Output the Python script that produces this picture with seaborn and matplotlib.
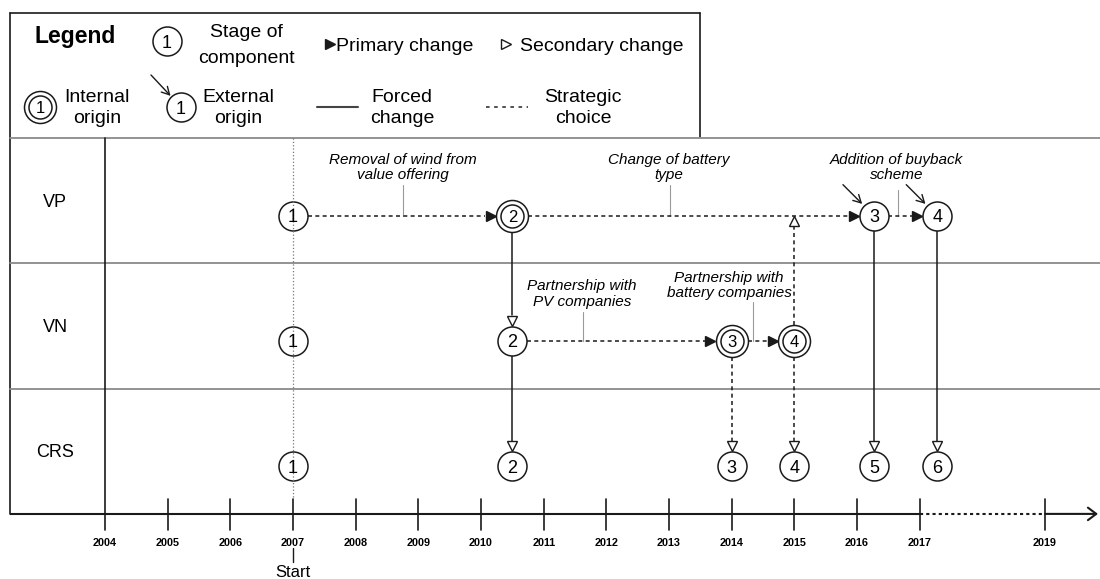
import numpy as np
import pandas as pd
import matplotlib.pyplot as plt
import matplotlib.transforms as mtransforms
import seaborn as sns

# ---- values ----
rows = ['VP', 'VN', 'CRS']
tick_years = [2004, 2005, 2006, 2007, 2008, 2009, 2010, 2011,
              2012, 2013, 2014, 2015, 2016, 2017, 2019]
start_year = 2007
dotted_from, dotted_to = 2017, 2019

vp_years = [2007, 2010.5, 2016.27, 2017.28]
vp_origin = ['none', 'internal', 'external', 'external']
vn_years = [2007, 2010.5, 2014, 2015]
vn_origin = ['none', 'none', 'internal', 'internal']
crs_years = [2007, 2010.5, 2014, 2015, 2016.27, 2017.28]
crs_origin = ['none', 'none', 'none', 'none', 'none', 'none']

# changes (row, stage) -> (row, stage); stage None = arrow meets the row line
chg_from = [('VP', 1), ('VP', 2), ('VP', 3), ('VP', 2), ('VN', 2), ('VN', 2),
            ('VN', 3), ('VN', 3), ('VN', 4), ('VN', 4), ('VP', 3), ('VP', 4)]
chg_to = [('VP', 2), ('VP', 3), ('VP', 4), ('VN', 2), ('CRS', 2), ('VN', 3),
          ('VN', 4), ('CRS', 3), ('CRS', 4), ('VP', None), ('CRS', 5), ('CRS', 6)]
chg_head = ['primary', 'primary', 'primary', 'secondary', 'secondary', 'primary',
            'primary', 'secondary', 'secondary', 'secondary', 'secondary', 'secondary']
chg_kind = ['strategic', 'strategic', 'strategic', 'forced', 'forced', 'strategic',
            'strategic', 'strategic', 'strategic', 'strategic', 'forced', 'forced']

notes = ['Removal of wind from\nvalue offering', 'Change of battery\ntype',
         'Addition of buyback\nscheme', 'Partnership with\nPV companies',
         'Partnership with\nbattery companies']
note_row = ['VP', 'VP', 'VP', 'VN', 'VN']
note_year = [2008.76, 2013.02, 2016.65, 2011.63, 2014.34]

# ---- layout (pixels) ----
W, H = 1100, 579
PPY = 62.67      # pixels per year
PPR = 125.3      # pixels per row band
X2004 = 105
TOP = 138
NODE = 0.62      # node line inside a band
R1, R2, R2IN = 14.5, 16, 11.5
HEAD = 11
INK = '#1a1a1a'
GRID = '#8a8a8a'
DASH = (0, (2.6, 2.2))

note_dx = [0, -2, -1, -1, -24]
note_base = [(-52, -37), (-52, -37), (-52, -37), (-51, -35), (-59, -44)]
note_lead = [-31, -31, -26, -29, -39]

xlim = (2004 - X2004 / PPY, 2004 + (W - X2004) / PPY)
ylim = ((H - TOP) / PPR, -TOP / PPR)


def dx(p):
    return p / PPY


def dy(p):
    return p / PPR


def msz(r):
    # scatter size (pt^2) for a circle of radius r px
    return (2 * r * 0.72) ** 2


sns.set_style('white')
plt.rcParams['font.family'] = ['Liberation Sans', 'DejaVu Sans']
plt.rcParams['text.color'] = 'black'

fig = plt.figure(figsize=(11, 5.79), dpi=100)
ax = fig.add_axes([0, 0, 1, 1])
ax.set_xlim(xlim)
ax.set_ylim(ylim)
pix = mtransforms.Affine2D().scale(1 / W, -1 / H).translate(0, 1) + fig.transFigure

node_years = {'VP': vp_years, 'VN': vn_years, 'CRS': crs_years}
node_origin = {'VP': vp_origin, 'VN': vn_origin, 'CRS': crs_origin}
recs = []
for i, r in enumerate(rows):
    for k, (yr, org) in enumerate(zip(node_years[r], node_origin[r])):
        recs.append(dict(row=r, stage=k + 1, year=yr, y=i + NODE, origin=org))
nodes = pd.DataFrame(recs)


def node_pos(row, stage):
    return node_years[row][stage - 1], rows.index(row) + NODE


def node_r(row, stage):
    return R2 if node_origin[row][stage - 1] == 'internal' else R1


# ---- frame: legend box, row bands, label column ----
ax.plot([10, 10], [13, 514], color=INK, lw=1.2, transform=pix)
ax.plot([10, 700], [13, 13], color=INK, lw=1.2, transform=pix)
ax.plot([700, 700], [13, 137], color=INK, lw=1.2, transform=pix)
for i in range(len(rows)):
    ax.plot([xlim[0] + dx(10), xlim[1]], [i, i], color=GRID, lw=1.3)
    ax.text(xlim[0] + dx(55), i + 0.5 + dy(6), rows[i], fontsize=13,
            ha='center', va='baseline')

# ---- time line ----
ax.plot([xlim[0] + dx(10), dotted_from], [3, 3], color=INK, lw=1.5, solid_capstyle='butt')
ax.plot([dotted_from, dotted_to], [3, 3], color=INK, lw=1.5, ls=(0, (1.5, 1.5)))
ax.annotate('', xy=(xlim[1] - dx(2), 3), xytext=(dotted_to, 3),
            arrowprops=dict(arrowstyle='->,head_length=0.6,head_width=0.45',
                            lw=1.5, color=INK, shrinkA=0, shrinkB=0))
for yr in tick_years:
    top = 0 if yr == tick_years[0] else 3 - dy(15)
    ax.plot([yr, yr], [top, 3 + dy(16)], color=INK, lw=1.2)
    ax.text(yr, 3 + dy(32), str(yr), fontsize=7.8, fontweight='bold',
            ha='center', va='baseline')
ax.plot([start_year, start_year], [0, 3 - dy(15)], color='#777777', lw=0.9,
        ls=':', zorder=3.5)
ax.plot([start_year, start_year], [3 + dy(34), 3 + dy(48)], color=INK, lw=1)
ax.text(start_year, 3 + dy(63), 'Start', fontsize=12, ha='center', va='baseline')

# ---- annotations of changes ----
for txt, r, yr, ddx, base, lead in zip(notes, note_row, note_year, note_dx, note_base, note_lead):
    ny = rows.index(r) + NODE
    ax.plot([yr, yr], [ny + dy(lead), ny], color='#9a9a9a', lw=0.8, zorder=1.5)
    for line, b in zip(txt.split('\n'), base):
        ax.text(yr + dx(ddx), ny + dy(b), line, fontsize=11, style='italic',
                ha='center', va='baseline')

# ---- changes ----
for src, dst, head, kind in zip(chg_from, chg_to, chg_head, chg_kind):
    xs, ys = node_pos(*src)
    rs = node_r(*src)
    if dst[1] is None:
        xd, yd, rd = xs, rows.index(dst[0]) + NODE, 0
    else:
        xd, yd = node_pos(*dst)
        rd = node_r(*dst)
    px_, py_ = (xd - xs) * PPY, (yd - ys) * PPR
    L = np.hypot(px_, py_)
    ux, uy = px_ / L, py_ / L
    x0, y0 = xs + dx(ux * rs), ys + dy(uy * rs)
    xt, yt = xd - dx(ux * rd), yd - dy(uy * rd)
    xb, yb = xt - dx(ux * HEAD), yt - dy(uy * HEAD)
    ls = DASH if kind == 'strategic' else '-'
    ax.plot([x0, xb], [y0, yb], color=INK, lw=1.1, ls=ls, zorder=2)
    mk = '>' if ux > 0.5 else ('v' if uy > 0.5 else '^')
    ax.plot([xt - dx(ux * HEAD / 2)], [yt - dy(uy * HEAD / 2)], marker=mk, ms=7,
            mfc=INK if head == 'primary' else 'white', mec=INK, mew=1.0, zorder=2.5)

# ---- stage circles ----
single = nodes[nodes['origin'] != 'internal']
double = nodes[nodes['origin'] == 'internal']
sns.scatterplot(data=single, x='year', y='y', s=msz(R1), color='white',
                edgecolor=INK, linewidth=1.1, legend=False, zorder=3, ax=ax)
sns.scatterplot(data=double, x='year', y='y', s=msz(R2), color='white',
                edgecolor=INK, linewidth=1.1, legend=False, zorder=3, ax=ax)
sns.scatterplot(data=double, x='year', y='y', s=msz(R2IN), color='white',
                edgecolor=INK, linewidth=1.1, legend=False, zorder=3.2, ax=ax)
for _, n in nodes.iterrows():
    internal = n['origin'] == 'internal'
    ax.text(n['year'], n['y'] + dy(6 if internal else 6.5), str(n['stage']),
            fontsize=12 if internal else 13, ha='center', va='baseline', zorder=4)
    if n['origin'] == 'external':
        ax.annotate('', xy=(n['year'], n['y']), xytext=(-31, 31),
                    textcoords='offset pixels',
                    arrowprops=dict(arrowstyle='->,head_length=0.55,head_width=0.3',
                                    lw=1.0, color=INK, shrinkA=0, shrinkB=12))

# ---- legend ----
ax.text(35, 43, 'Legend', fontsize=16.5, fontweight='bold', va='baseline', transform=pix)
ax.scatter([167], [41], s=msz(R1), color='white', edgecolor=INK, lw=1.1,
           transform=pix, zorder=3)
ax.text(167, 47.5, '1', fontsize=13, ha='center', va='baseline', transform=pix, zorder=4)
ax.text(246, 37, 'Stage of', fontsize=14, ha='center', va='baseline', transform=pix)
ax.text(246, 63, 'component', fontsize=14, ha='center', va='baseline', transform=pix)
ax.plot([330], [44], marker='>', ms=7.5, color=INK, transform=pix)
ax.text(336, 51, 'Primary change', fontsize=14, va='baseline', transform=pix)
ax.plot([506], [44], marker='>', ms=7, mfc='white', mec=INK, mew=1, transform=pix)
ax.text(520, 51, 'Secondary change', fontsize=14, va='baseline', transform=pix)

ax.scatter([40], [107], s=msz(R2), color='white', edgecolor=INK, lw=1.1,
           transform=pix, zorder=3)
ax.scatter([40], [107], s=msz(R2IN), color='white', edgecolor=INK, lw=1.1,
           transform=pix, zorder=3.2)
ax.text(40, 113, '1', fontsize=12, ha='center', va='baseline', transform=pix, zorder=4)
ax.text(97, 102, 'Internal', fontsize=14, ha='center', va='baseline', transform=pix)
ax.text(97, 123, 'origin', fontsize=14, ha='center', va='baseline', transform=pix)

ax.scatter([181], [107], s=msz(R1), color='white', edgecolor=INK, lw=1.1,
           transform=pix, zorder=3)
ax.text(181, 113.5, '1', fontsize=13, ha='center', va='baseline', transform=pix, zorder=4)
ax.annotate('', xy=(181, 107), xycoords=pix, xytext=(-30, 32), textcoords='offset pixels',
            arrowprops=dict(arrowstyle='->,head_length=0.55,head_width=0.3',
                            lw=1.0, color=INK, shrinkA=0, shrinkB=11))
ax.text(238, 102, 'External', fontsize=14, ha='center', va='baseline', transform=pix)
ax.text(238, 123, 'origin', fontsize=14, ha='center', va='baseline', transform=pix)

ax.plot([317, 358], [107, 107], color='#444444', lw=1.5, transform=pix)
ax.text(402, 102, 'Forced', fontsize=14, ha='center', va='baseline', transform=pix)
ax.text(402, 123, 'change', fontsize=14, ha='center', va='baseline', transform=pix)
ax.plot([486, 528], [107, 107], color='#444444', lw=1.3, ls=(0, (2, 2.5)), transform=pix)
ax.text(583, 102, 'Strategic', fontsize=14, ha='center', va='baseline', transform=pix)
ax.text(583, 123, 'choice', fontsize=14, ha='center', va='baseline', transform=pix)

ax.set_xlim(xlim)
ax.set_ylim(ylim)
ax.axis('off')
fig.savefig('out.png', dpi=100, facecolor='white')
